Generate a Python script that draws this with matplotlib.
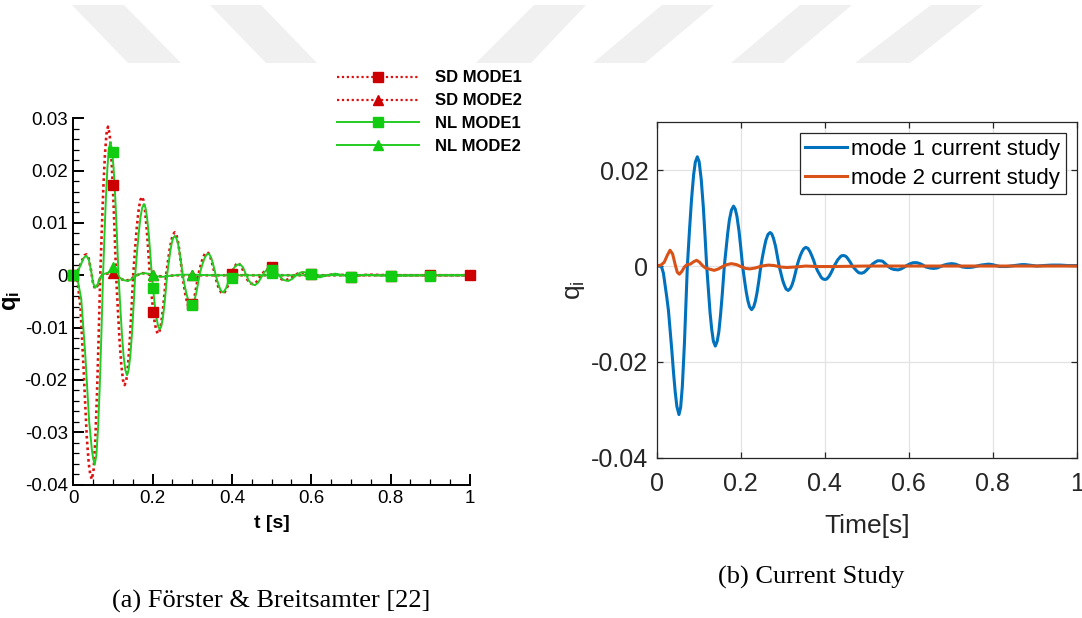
import matplotlib.pyplot as plt
from matplotlib.lines import Line2D
from matplotlib.patches import Polygon
from matplotlib.ticker import MultipleLocator, FuncFormatter

plt.rcParams['font.family'] = ['Liberation Sans', 'DejaVu Sans']
plt.rcParams['axes.unicode_minus'] = False
plt.rcParams['mathtext.fontset'] = 'custom'
plt.rcParams['mathtext.rm'] = 'Liberation Sans'
plt.rcParams['mathtext.it'] = 'Liberation Sans:italic'
plt.rcParams['mathtext.bf'] = 'Liberation Sans:bold'

# ---- (a) Förster & Breitsamter ----
sd1_t = [0.0, 0.010, 0.018, 0.026, 0.034, 0.039, 0.043, 0.047, 0.0512, 0.0554, 0.0596, 0.0638,
         0.068, 0.0719, 0.0758, 0.0797, 0.0836, 0.0875, 0.0916, 0.0957, 0.0998, 0.1039, 0.108,
         0.1123, 0.1166, 0.1209, 0.1252, 0.1295, 0.1338, 0.1381, 0.1424, 0.1467, 0.151, 0.1554,
         0.1598, 0.1642, 0.1686, 0.173, 0.177, 0.181, 0.185, 0.189, 0.193, 0.1971, 0.2012,
         0.2053, 0.2094, 0.2135, 0.2176, 0.2217, 0.2258, 0.2299, 0.234, 0.2383, 0.2426, 0.247,
         0.2513, 0.2556, 0.2595, 0.2634, 0.2672, 0.2711, 0.275, 0.2788, 0.2826, 0.2864, 0.2902,
         0.294, 0.2982, 0.3024, 0.3066, 0.3108, 0.315, 0.3194, 0.3238, 0.3282, 0.3326, 0.337,
         0.341, 0.345, 0.349, 0.353, 0.357, 0.361, 0.365, 0.369, 0.373, 0.377, 0.381, 0.385,
         0.389, 0.393, 0.397, 0.401, 0.405, 0.409, 0.4125, 0.416, 0.424, 0.432, 0.440, 0.448,
         0.455, 0.463, 0.471, 0.480, 0.488, 0.496, 0.506, 0.516, 0.526, 0.537, 0.548, 0.558,
         0.568, 0.578, 0.590, 0.600, 0.615, 0.640, 0.660, 0.700, 0.750, 0.800, 1.0]
sd1_q = [0.0, -0.0008, -0.0060, -0.0180, -0.0310, -0.0360, -0.0382, -0.0390, -0.0371, -0.0316,
         -0.0230, -0.0121, 0.0, 0.0088, 0.0168, 0.0230, 0.0270, 0.0284, 0.0270, 0.0230, 0.0168,
         0.0088, 0.0, -0.0065, -0.0124, -0.0170, -0.0200, -0.0210, -0.0200, -0.0170, -0.0124,
         -0.0065, 0.0, 0.0047, 0.0089, 0.0122, 0.0143, 0.0150, 0.0143, 0.0122, 0.0089, 0.0047,
         0.0, -0.0035, -0.0066, -0.0091, -0.0106, -0.0112, -0.0106, -0.0091, -0.0066, -0.0035,
         0.0, 0.0025, 0.0048, 0.0066, 0.0078, 0.0082, 0.0078, 0.0066, 0.0048, 0.0025, 0.0,
         -0.0019, -0.0037, -0.0050, -0.0059, -0.0062, -0.0059, -0.0050, -0.0037, -0.0019, 0.0,
         0.0014, 0.0026, 0.0036, 0.0042, 0.0044, 0.0042, 0.0036, 0.0026, 0.0014, 0.0, -0.0011,
         -0.0021, -0.0028, -0.0033, -0.0035, -0.0033, -0.0028, -0.0021, -0.0011, 0.0, 0.0008,
         0.0014, 0.0019, 0.0023, 0.0024, 0.0016, 0.0002, -0.0010, -0.0016, -0.0017, -0.0012,
         -0.0003, 0.0006, 0.0011, 0.0012, 0.0007, -0.0002, -0.0008, -0.0009, -0.0006, 0.0,
         0.0004, 0.0005, 0.0002, -0.0001, -0.0003, 0.0, 0.0002, -0.0001, 0.0001, 0.0, 0.0]

sd2_t = [0.0, 0.010, 0.020, 0.028, 0.033, 0.039, 0.045, 0.050, 0.055, 0.061, 0.067, 0.075, 0.085,
         0.095, 0.100, 0.110, 0.120, 0.133, 0.145, 0.160, 0.175, 0.190, 0.210, 0.230, 0.260, 1.0]
sd2_q = [0.0, 0.0006, 0.0025, 0.0038, 0.0040, 0.0032, 0.0008, -0.0016, -0.0026, -0.0020, -0.0006,
         0.0002, 0.0003, 0.0005, 0.0005, 0.0, -0.0007, -0.0011, -0.0007, 0.0, 0.0004, 0.0002,
         -0.0002, -0.0002, 0.0, 0.0]

nl1_t = [0.0, 0.010, 0.020, 0.030, 0.040, 0.047, 0.050, 0.054, 0.0582, 0.0624, 0.0666, 0.0708,
         0.075, 0.0787, 0.0823, 0.086, 0.0896, 0.0933, 0.0974, 0.1015, 0.1057, 0.1098, 0.114,
         0.1183, 0.1226, 0.1268, 0.1311, 0.1354, 0.1395, 0.1436, 0.1478, 0.1519, 0.156, 0.1604,
         0.1648, 0.1692, 0.1736, 0.178, 0.182, 0.186, 0.190, 0.194, 0.198, 0.202, 0.206, 0.210,
         0.214, 0.218, 0.2217, 0.2254, 0.2291, 0.2328, 0.2365, 0.2403, 0.2441, 0.248, 0.2518,
         0.2556, 0.2597, 0.2638, 0.2678, 0.2719, 0.276, 0.2804, 0.2848, 0.2892, 0.2936, 0.298,
         0.302, 0.306, 0.310, 0.314, 0.318, 0.3224, 0.3268, 0.3312, 0.3356, 0.340, 0.3438,
         0.3476, 0.3514, 0.3552, 0.359, 0.3628, 0.3666, 0.3704, 0.3742, 0.378, 0.385, 0.392,
         0.399, 0.406, 0.413, 0.420, 0.428, 0.435, 0.442, 0.450, 0.458, 0.466, 0.474, 0.482,
         0.490, 0.500, 0.510, 0.520, 0.530, 0.542, 0.552, 0.562, 0.572, 0.582, 0.592, 0.602,
         0.612, 0.622, 0.640, 0.660, 0.680, 0.700, 0.720, 0.740, 0.760, 0.800, 0.900, 1.0]
nl1_q = [0.0, -0.0005, -0.0045, -0.0150, -0.0280, -0.0335, -0.0350, -0.0362, -0.0344, -0.0293,
         -0.0214, -0.0112, 0.0, 0.0079, 0.0150, 0.0206, 0.0241, 0.0254, 0.0241, 0.0206, 0.0150,
         0.0079, 0.0, -0.0059, -0.0113, -0.0155, -0.0181, -0.0191, -0.0181, -0.0155, -0.0113,
         -0.0059, 0.0, 0.0042, 0.0080, 0.0110, 0.0129, 0.0136, 0.0129, 0.0110, 0.0080, 0.0042,
         0.0, -0.0032, -0.0061, -0.0083, -0.0098, -0.0103, -0.0098, -0.0083, -0.0061, -0.0032,
         0.0, 0.0023, 0.0044, 0.0061, 0.0071, 0.0075, 0.0071, 0.0061, 0.0044, 0.0023, 0.0,
         -0.0018, -0.0034, -0.0046, -0.0054, -0.0057, -0.0054, -0.0046, -0.0034, -0.0018, 0.0,
         0.0013, 0.0024, 0.0033, 0.0039, 0.0041, 0.0039, 0.0033, 0.0024, 0.0013, 0.0, -0.0010,
         -0.0019, -0.0027, -0.0031, -0.0033, -0.0025, -0.0010, 0.0005, 0.0015, 0.0020, 0.0021,
         0.0015, 0.0002, -0.0010, -0.0017, -0.0019, -0.0014, -0.0004, 0.0006, 0.0012, 0.0014,
         0.0008, -0.0002, -0.0009, -0.0011, -0.0007, 0.0, 0.0005, 0.0006, 0.0003, -0.0001,
         -0.0003, -0.0004, 0.0, 0.0003, 0.0, -0.0002, 0.0, 0.0001, 0.0, -0.0001, 0.0, 0.0]

nl2_t = [0.0, 0.010, 0.020, 0.027, 0.033, 0.039, 0.045, 0.050, 0.0555, 0.061, 0.067, 0.075, 0.085,
         0.095, 0.100, 0.107, 0.115, 0.125, 0.138, 0.150, 0.160, 0.170, 0.180, 0.195, 0.210,
         0.225, 0.245, 0.270, 0.300, 0.350, 0.500, 1.0]
nl2_q = [0.0, 0.0005, 0.0022, 0.0034, 0.0037, 0.0030, 0.0008, -0.0015, -0.0024, -0.0018, -0.0005,
         0.0002, 0.0004, 0.0008, 0.0010, 0.0005, -0.0003, -0.0009, -0.0011, -0.0006, 0.0,
         0.0003, 0.0004, 0.0002, -0.0002, -0.0003, -0.0001, 0.0001, 0.0001, 0.0, 0.0, 0.0]

# symbols drawn on the curves
sd1_mt = [0.0, 0.1, 0.2, 0.3, 0.4, 0.5, 0.6, 0.7, 0.8, 0.9, 1.0]
sd1_mq = [0.0, 0.0173, -0.0070, -0.0055, 0.0002, 0.0015, 0.0002, -0.0003, -0.0001, 0.0, 0.0]
sd2_mt = [0.0, 0.1, 0.2, 0.3, 0.4]
sd2_mq = [0.0, 0.0005, 0.0, 0.0, 0.0]
nl1_mt = [0.0, 0.1, 0.2, 0.3, 0.4, 0.5, 0.5, 0.6, 0.7, 0.8, 0.9]
nl1_mq = [0.0, 0.0235, -0.0025, -0.0057, -0.0005, 0.0005, 0.0010, 0.0002, -0.0004, -0.0002,
          -0.0001]
nl2_mt = [0.0, 0.1, 0.2, 0.3]
nl2_mq = [0.0, 0.0015, 0.0, 0.0]

# ---- (b) current study ----
m1_t = [0.0, 0.008, 0.012, 0.016, 0.020, 0.024, 0.028, 0.032, 0.036, 0.040, 0.044, 0.048, 0.053,
        0.057, 0.061, 0.066, 0.070, 0.073, 0.078, 0.083, 0.088, 0.092, 0.0967, 0.101, 0.106,
        0.111, 0.115, 0.119, 0.123, 0.127, 0.131, 0.135, 0.1396, 0.144, 0.148, 0.152, 0.156,
        0.161, 0.165, 0.169, 0.173, 0.178, 0.183, 0.187, 0.191, 0.196, 0.200, 0.2045, 0.209,
        0.213, 0.217, 0.221, 0.226, 0.231, 0.235, 0.239, 0.243, 0.248, 0.252, 0.256, 0.260,
        0.265, 0.270, 0.274, 0.278, 0.283, 0.287, 0.2915, 0.296, 0.300, 0.304, 0.308, 0.313,
        0.318, 0.322, 0.326, 0.330, 0.334, 0.338, 0.342, 0.346, 0.350, 0.355, 0.360, 0.365,
        0.370, 0.374, 0.378, 0.383, 0.388, 0.392, 0.396, 0.4007, 0.405, 0.410, 0.414, 0.418,
        0.4225, 0.427, 0.431, 0.435, 0.439, 0.444, 0.449, 0.453, 0.457, 0.461, 0.466, 0.471,
        0.476, 0.481, 0.488, 0.494, 0.500, 0.505, 0.510, 0.515, 0.520, 0.526, 0.532, 0.538,
        0.543, 0.548, 0.553, 0.558, 0.564, 0.575, 0.582, 0.590, 0.597, 0.604, 0.611, 0.619,
        0.627, 0.634, 0.641, 0.650, 0.659, 0.668, 0.676, 0.684, 0.693, 0.702, 0.711, 0.720,
        0.728, 0.737, 0.745, 0.754, 0.763, 0.772, 0.781, 0.790, 0.799, 0.808, 0.817, 0.826,
        0.834, 0.843, 0.852, 0.861, 0.869, 0.877, 0.886, 0.895, 0.905, 0.920, 0.940, 0.960,
        0.980, 1.0]
m1_q = [0.0, 0.0, -0.0003, -0.0015, -0.0040, -0.0065, -0.0093, -0.0135, -0.0176, -0.0222,
        -0.0262, -0.0293, -0.0310, -0.0295, -0.0252, -0.0162, -0.0070, 0.0, 0.0074, 0.0140,
        0.0191, 0.0217, 0.0228, 0.0218, 0.0181, 0.0123, 0.0064, 0.0, -0.0050, -0.0097, -0.0132,
        -0.0157, -0.0167, -0.0157, -0.0137, -0.0102, -0.0060, 0.0, 0.0035, 0.0068, 0.0096,
        0.0117, 0.0125, 0.0119, 0.0104, 0.0073, 0.0040, 0.0, -0.0029, -0.0053, -0.0072,
        -0.0085, -0.0091, -0.0085, -0.0073, -0.0055, -0.0032, 0.0, 0.0020, 0.0038, 0.0054,
        0.0066, 0.0070, 0.0067, 0.0058, 0.0041, 0.0022, 0.0, -0.0016, -0.0030, -0.0040,
        -0.0048, -0.0051, -0.0047, -0.0040, -0.0029, -0.0015, 0.0, 0.0012, 0.0022, 0.0030,
        0.0036, 0.0039, 0.0037, 0.0030, 0.0020, 0.0011, 0.0, -0.0010, -0.0018, -0.0024,
        -0.0027, -0.0028, -0.0027, -0.0022, -0.0016, -0.0009, 0.0, 0.0007, 0.0013, 0.0017,
        0.0021, 0.0022, 0.0021, 0.0018, 0.0013, 0.0008, 0.0, -0.0005, -0.0010, -0.0014,
        -0.0015, -0.0013, -0.0008, -0.0003, 0.0001, 0.0005, 0.0008, 0.0011, 0.0011, 0.0010,
        0.0006, 0.0002, -0.0002, -0.0005, -0.0007, -0.0008, -0.0006, -0.0002, 0.0002, 0.0005,
        0.0007, 0.0007, 0.0005, 0.0002, -0.0002, -0.0004, -0.0005, -0.0004, -0.0001, 0.0002,
        0.0004, 0.0005, 0.0004, 0.0001, -0.0002, -0.0003, -0.0003, -0.0002, 0.0, 0.0002,
        0.0003, 0.0004, 0.0003, 0.0001, -0.0001, -0.0001, -0.0001, 0.0, 0.0001, 0.0002, 0.0003,
        0.0003, 0.0002, 0.0001, 0.0, 0.0001, 0.0002, 0.0002, 0.0001, 0.0001]

m2_t = [0.0, 0.010, 0.018, 0.025, 0.0317, 0.038, 0.044, 0.049, 0.054, 0.060, 0.066, 0.072, 0.080,
        0.088, 0.095, 0.102, 0.109, 0.116, 0.124, 0.137, 0.147, 0.157, 0.167, 0.178, 0.190,
        0.200, 0.212, 0.222, 0.235, 0.250, 0.266, 0.280, 0.295, 0.310, 0.330, 0.355, 0.380,
        0.420, 0.500, 1.0]
m2_q = [0.0, 0.0002, 0.0008, 0.0022, 0.0033, 0.0025, 0.0003, -0.0013, -0.0017, -0.0011, -0.0002,
        0.0003, 0.0004, 0.0009, 0.0012, 0.0008, 0.0001, -0.0004, -0.0006, -0.0009, -0.0006,
        -0.0001, 0.0003, 0.0005, 0.0003, -0.0001, -0.0005, -0.0006, -0.0004, 0.0, 0.0002,
        0.0001, -0.0002, -0.0003, -0.0002, 0.0, -0.0001, -0.0001, 0.0, 0.0]

W, H = 1082, 618


def px_box(x0, y0, x1, y1):
    # axes rectangle from pixel corners (origin top left)
    return [x0 / W, 1 - y1 / H, (x1 - x0) / W, (y1 - y0) / H]


fig = plt.figure(figsize=(10.82, 6.18), dpi=100)

# faint watermark bands at the top of the page
bands = [[(72, 5), (124, 5), (181, 63), (128, 63)],
         [(210, 5), (261, 5), (317, 63), (266, 63)],
         [(534, 5), (586, 5), (531, 63), (476, 63)],
         [(662, 5), (714, 5), (645, 63), (593, 63)],
         [(800, 5), (852, 5), (783, 63), (731, 63)],
         [(931, 5), (983, 5), (910, 63), (855, 63)]]
for b in bands:
    fig.patches.append(Polygon([(x / W, 1 - y / H) for x, y in b], closed=True,
                               transform=fig.transFigure, facecolor='#f0f0f0',
                               edgecolor='none', zorder=0))

fmt = FuncFormatter(lambda v, p: '%g' % round(v, 6))

# ---------------- left panel ----------------
red = '#dd1111'
red_m = '#cc0000'
green = '#22cc22'
green_m = '#11cc11'
dots = (0, (1, 1.2))

ax1 = fig.add_axes(px_box(73.3, 118.3, 470, 484.5))
ax1.plot(sd1_t, sd1_q, color=red, ls=dots, lw=1.9)
ax1.plot(sd2_t, sd2_q, color=red, ls=dots, lw=1.9)
ax1.plot(nl1_t, nl1_q, color=green, lw=1.4)
ax1.plot(nl2_t, nl2_q, color=green, lw=1.4)
ax1.plot(sd1_mt, sd1_mq, 's', color=red_m, ms=7, clip_on=False)
ax1.plot(sd2_mt, sd2_mq, '^', color=red_m, ms=7, clip_on=False)
ax1.plot(nl1_mt, nl1_mq, 's', color=green_m, ms=7, clip_on=False)
ax1.plot(nl2_mt, nl2_mq, '^', color=green_m, ms=7, clip_on=False)

ax1.set_xlim(0, 1)
ax1.set_ylim(-0.04, 0.03)
ax1.xaxis.set_major_locator(MultipleLocator(0.2))
ax1.xaxis.set_minor_locator(MultipleLocator(0.05))
ax1.yaxis.set_major_locator(MultipleLocator(0.01))
ax1.yaxis.set_minor_locator(MultipleLocator(0.002))
ax1.xaxis.set_major_formatter(fmt)
ax1.yaxis.set_major_formatter(fmt)
ax1.spines['top'].set_visible(False)
ax1.spines['right'].set_visible(False)
ax1.spines['left'].set_linewidth(1.4)
ax1.spines['bottom'].set_linewidth(1.4)
ax1.tick_params(which='both', direction='in', labelsize=13.5)
ax1.tick_params(which='major', length=8, width=1.4, pad=4)
ax1.tick_params(which='minor', length=4, width=0.9)
ax1.set_xlabel('t [s]', fontsize=14, fontweight='bold', labelpad=6)
ax1.set_ylabel(r'q$_\mathbf{i}$', fontsize=17, fontweight='bold')
ax1.yaxis.set_label_coords(-0.128, 0.5)

handles = [
    Line2D([], [], color=red, ls=dots, lw=1.6, marker='s', mfc=red_m, mec=red_m, ms=7),
    Line2D([], [], color=red, ls=dots, lw=1.6, marker='^', mfc=red_m, mec=red_m, ms=7),
    Line2D([], [], color=green, lw=1.4, marker='s', mfc=green_m, mec=green_m, ms=7),
    Line2D([], [], color=green, lw=1.4, marker='^', mfc=green_m, mec=green_m, ms=7),
]
ax1.legend(handles, ['SD MODE1', 'SD MODE2', 'NL MODE1', 'NL MODE2'],
           loc='upper left', bbox_to_anchor=(337 / W, 1 - 70.5 / H),
           bbox_transform=fig.transFigure, frameon=False, numpoints=1,
           prop={'weight': 'bold', 'size': 12}, handlelength=4.9,
           handletextpad=1.0, labelspacing=0.47, borderpad=0, borderaxespad=0)

# ---------------- right panel ----------------
dark = '#262626'
ax2 = fig.add_axes(px_box(656.7, 122.3, 1076.7, 457.7))
ax2.plot(m1_t, m1_q, color='#0072BD', lw=2.2, label='mode 1 current study')
ax2.plot(m2_t, m2_q, color='#D95319', lw=2.2, label='mode 2 current study')
ax2.set_xlim(0, 1)
ax2.set_ylim(-0.04, 0.03)
ax2.set_xticks([0, 0.2, 0.4, 0.6, 0.8, 1])
ax2.set_yticks([-0.04, -0.02, 0, 0.02])
ax2.xaxis.set_major_formatter(fmt)
ax2.yaxis.set_major_formatter(fmt)
ax2.grid(True, color='#e3e3e3', lw=0.9)
ax2.set_axisbelow(True)
for s in ax2.spines.values():
    s.set_color(dark)
    s.set_linewidth(0.9)
ax2.tick_params(direction='in', length=4, width=0.9, colors=dark, labelsize=18,
                top=True, right=True)
ax2.tick_params(axis='x', pad=10)
ax2.tick_params(axis='y', pad=6)
ax2.set_xlabel('Time[s]', fontsize=19, color=dark, labelpad=13)
ax2.set_ylabel(r'q$_\mathregular{i}$', fontsize=19, color=dark, labelpad=3)
leg = ax2.legend(loc='upper right', fontsize=16, handlelength=1.85, handletextpad=0.2,
                 labelspacing=0.34, borderpad=0.25, borderaxespad=0.5, fancybox=False,
                 framealpha=1)
leg.get_frame().set_edgecolor(dark)
leg.get_frame().set_linewidth(0.9)

# captions
fig.text(271 / W, 1 - 601 / H, '(a) Förster & Breitsamter [22]', ha='center', va='center',
         fontsize=19, family='Liberation Serif')
fig.text(811 / W, 1 - 577 / H, '(b) Current Study', ha='center', va='center',
         fontsize=19, family='Liberation Serif')

fig.savefig('out.png', dpi=100)
